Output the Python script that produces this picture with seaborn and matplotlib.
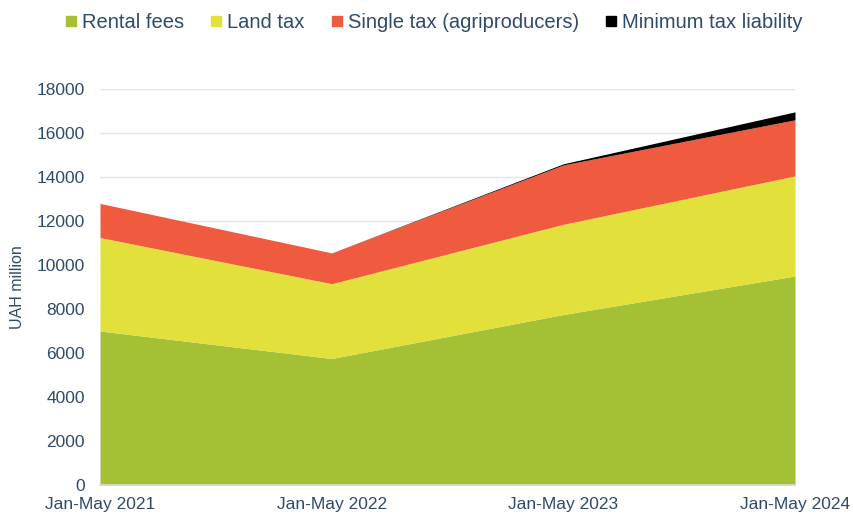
import matplotlib
matplotlib.use("Agg")
import matplotlib.pyplot as plt
from matplotlib.lines import Line2D
import seaborn as sns
import pandas as pd

periods = ["Jan-May 2021", "Jan-May 2022", "Jan-May 2023", "Jan-May 2024"]
rental_fees = [7000, 5750, 7750, 9500]
land_tax = [4250, 3400, 4100, 4550]
single_tax = [1550, 1400, 2700, 2550]
minimum_tax = [0, 0, 50, 360]

series_names = ["Rental fees", "Land tax", "Single tax (agriproducers)", "Minimum tax liability"]
colors = ["#A4C136", "#E2E03A", "#F05A3F", "#000000"]
text_color = "#2F4A6B"

df = pd.DataFrame({
    "period": periods,
    series_names[0]: rental_fees,
    series_names[1]: land_tax,
    series_names[2]: single_tax,
    series_names[3]: minimum_tax,
})

sns.set_theme(style="white")
plt.rcParams["font.family"] = ["Liberation Sans", "DejaVu Sans"]

fig = plt.figure(figsize=(8.54, 5.15), dpi=100)
ax = fig.add_axes([100 / 854, 30 / 515, 695 / 854, 396 / 515])

x = list(range(len(periods)))
ax.stackplot(x, [df[n] for n in series_names], colors=colors, linewidth=0, zorder=2)

ax.set_xlim(0, len(periods) - 1)
ax.set_ylim(0, 18000)
ax.set_yticks(range(0, 18001, 2000))
ax.set_xticks(x)
ax.set_xticklabels(periods)
ax.yaxis.grid(True, color="#E3E3E3", linewidth=1, zorder=0)
ax.set_axisbelow(True)
for side in ["top", "right", "left"]:
    ax.spines[side].set_visible(False)
ax.spines["bottom"].set_color("#D9D9D9")
ax.tick_params(axis="both", length=0, labelsize=12.5, labelcolor=text_color)
ax.tick_params(axis="y", pad=11)
ax.tick_params(axis="x", pad=9)
ax.set_ylabel("UAH million", fontsize=11.5, color=text_color, labelpad=8)

handles = [Line2D([0], [0], marker="s", linestyle="none", markersize=7,
                  markerfacecolor=c, markeredgecolor=c) for c in colors]
fig.legend(handles, series_names, loc="center", bbox_to_anchor=(0.508, 0.957),
           ncol=4, frameon=False, fontsize=14.5, handlelength=0.6,
           handletextpad=0.25, columnspacing=1.3, labelcolor=text_color)

fig.savefig("out.png", dpi=100)
